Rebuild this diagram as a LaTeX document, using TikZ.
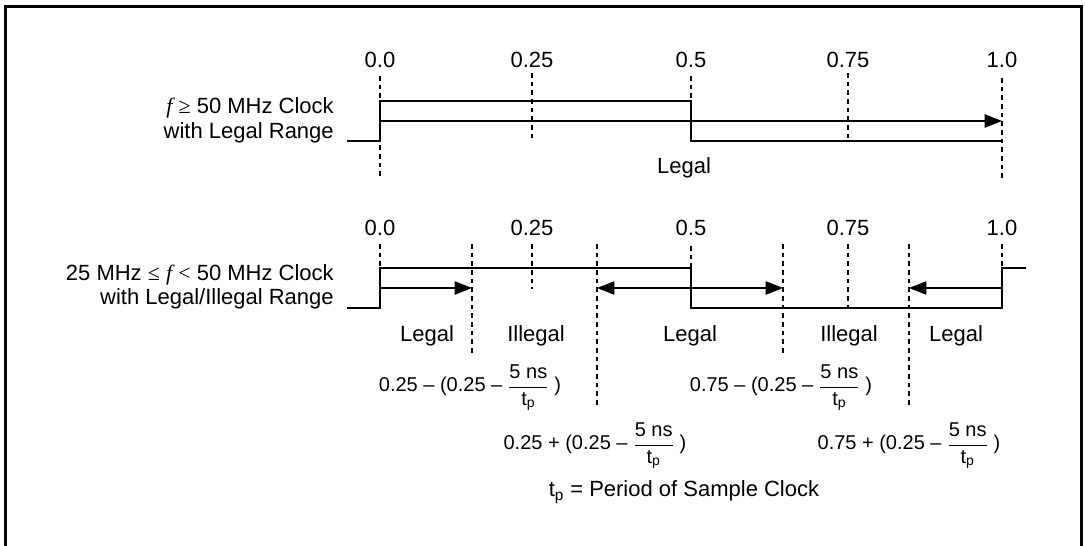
\documentclass[tikz,border=0pt]{standalone}
\usepackage{amsmath}
\usepackage{fontspec}
\setmainfont{Liberation Sans}
\newfontfamily\symfont{Liberation Serif}
\usetikzlibrary{arrows.meta,positioning}

\begin{document}
\begin{tikzpicture}[x=0.75pt,y=-0.75pt,>={Triangle[length=13pt,width=10pt]},
    every node/.append style={align=center,inner sep=0pt,font=\fontsize{16.5}{18.4}\selectfont},
    sig/.style={line width=0.9pt},
    guide/.style={line width=0.8pt,dash pattern=on 3.5pt off 3pt},
    frm/.style={font=\fontsize{15}{17}\selectfont}]

    \useasboundingbox (0,0) rectangle (1085,546);
    \draw[line width=2.5pt] (5.7,546) -- (5.7,6.5) -- (1081.7,6.5) -- (1081.7,546);

    % upper clock
    \foreach \x/\t/\n in {380/0.0/a,532/0.25/b,691/0.5/c,848/0.75/d,1002/1.0/e}
        \node (up\n) at (\x,60) {\t};
    \node[anchor=east,align=right] (uplbl) at (334,120.3) {{\symfont\itshape f} {\symfont ≥} 50 MHz Clock\\with Legal Range};
    \node (uplegal) at (684,168) {Legal};

    \draw[guide] (upa |- 0,76) -- (upa |- 0,177);
    \draw[guide] (upe |- 0,78) -- (upe |- 0,178);
    \draw[guide] (upb |- 0,73) -- (upb |- 0,139);
    \draw[guide] (upd |- 0,73) -- (upd |- 0,139);
    \draw[guide] (upc |- 0,76) -- (upc |- 0,101);

    \coordinate (upstart) at (380,121);
    \coordinate (upend) at (1002,121);
    \draw[sig] (347,141) -- (380,141) -- (380,101) -- (691,101) -- (691,141) -- (1002,141);
    \draw[sig,->] (upstart) -- (upend);

    % lower clock
    \foreach \x/\t/\n in {380/0.0/a,532/0.25/b,691/0.5/c,848/0.75/d,1002/1.0/e}
        \node (lo\n) at (\x,228) {\t};
    \node[anchor=east,align=right] (lolbl) at (334,286.7) {25 MHz {\symfont ≤} {\symfont\itshape f} {\symfont <} 50 MHz Clock\\with Legal/Illegal Range};

    \draw[guide] (loa |- 0,244) -- (loa |- 0,268);
    \draw[guide] (lob |- 0,244) -- (lob |- 0,289);
    \draw[guide] (loc |- 0,246) -- (loc |- 0,268);
    \draw[guide] (lod |- 0,244) -- (lod |- 0,313);
    \draw[guide] (loe |- 0,244) -- (loe |- 0,268);

    \coordinate (ba) at (472,288);
    \coordinate (bb) at (597,288);
    \coordinate (bc) at (783,288);
    \coordinate (bd) at (909,288);
    \draw[guide] (ba |- 0,244) -- (ba |- 0,355);
    \draw[guide] (bc |- 0,244) -- (bc |- 0,355);
    \draw[guide] (bb |- 0,244) -- (bb |- 0,408);
    \draw[guide] (bd |- 0,244) -- (bd |- 0,408);

    \coordinate (lostart) at (380,288);
    \coordinate (loend) at (1002,288);
    \draw[sig] (347,308) -- (380,308) -- (380,268) -- (691,268) -- (691,308) -- (1002,308) -- (1002,268) -- (1026,268);
    \draw[sig,->] (lostart) -- (ba);
    \draw[sig,<->] (bb) -- (bc);
    \draw[sig,->] (loend) -- (bd);

    \node (lg1) at (427,336) {Legal};
    \node (il1) at (536,336) {Illegal};
    \node (lg2) at (690,336) {Legal};
    \node (il2) at (849,336) {Illegal};
    \node (lg3) at (956,336) {Legal};

    \node[frm] (fa) at (470,388) {0.25 – (0.25 – $\dfrac{\text{5 ns}}{\text{t\textsubscript{p}}}$ )};
    \node[frm] (fc) at (781,388) {0.75 – (0.25 – $\dfrac{\text{5 ns}}{\text{t\textsubscript{p}}}$ )};
    \node[frm] (fb) at (595,446) {0.25 + (0.25 – $\dfrac{\text{5 ns}}{\text{t\textsubscript{p}}}$ )};
    \node[frm] (fd) at (909,446) {0.75 + (0.25 – $\dfrac{\text{5 ns}}{\text{t\textsubscript{p}}}$ )};
    \node (tp) at (684,492) {t\textsubscript{p} = Period of Sample Clock};
\end{tikzpicture}
\end{document}
